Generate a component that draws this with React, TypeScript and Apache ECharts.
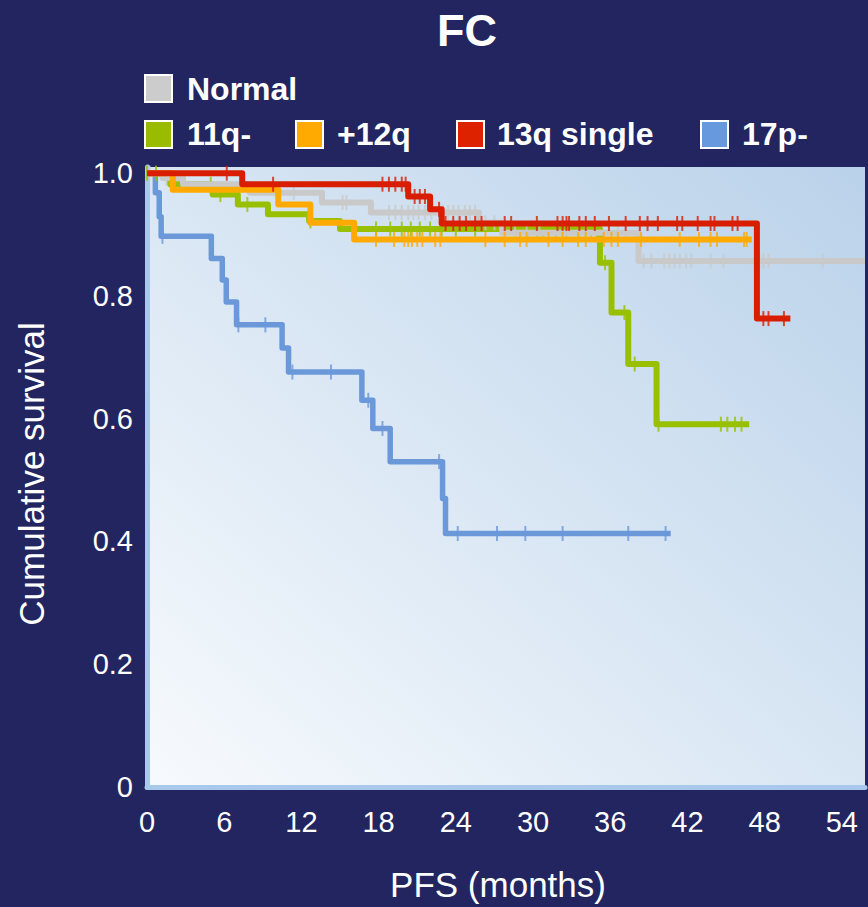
import { useEffect, useRef } from "react";
import * as echarts from "echarts";

// ---- data ----
const xTickValues = [0, 6, 12, 18, 24, 30, 36, 42, 48, 54];
const yTickValues = [0, 0.2, 0.4, 0.6, 0.8, 1.0];

const groupNames = ["Normal", "11q-", "+12q", "13q single", "17p-"];

// Normal (grey)
const normalTimes = [0, 1.2, 2.8, 8.0, 13.6, 17.4, 25.8, 27.6, 38.2];
const normalSurv = [1, 0.992, 0.982, 0.968, 0.952, 0.936, 0.919, 0.903, 0.857];
const normalEnd = 55.8;
const normalCensor = [0.2, 1.5, 11.4, 15.2, 15.5, 18.8, 19.3, 19.8, 20.3, 20.7, 21.1, 21.6, 22.1, 23.0, 23.4, 23.8, 24.2, 24.7, 25.1, 25.5, 26.3, 27.0, 28.6, 29.5, 30.5, 34.1, 36.6, 37.2, 38.6, 39.2, 40.2, 40.6, 41.0, 41.4, 41.9, 42.3, 43.8, 44.8, 47.6, 47.9, 48.3, 52.5];

// 11q- (green)
const q11Times = [0, 1.8, 5.1, 7.06, 9.4, 12.6, 15.0, 35.2, 36.1, 37.4, 39.6];
const q11Surv = [1, 0.982, 0.965, 0.949, 0.933, 0.922, 0.909, 0.854, 0.773, 0.689, 0.591];
const q11End = 46.8;
const q11Censor = [0, 0.7, 4.95, 5.7, 7.8, 12.7, 17.8, 18.9, 19.8, 20.5, 21.2, 22.0, 22.9, 24.0, 25.5, 29.0, 29.6, 30.3, 30.8, 31.8, 32.6, 33.6, 34.5, 34.9, 35.6, 37.1, 37.9, 39.75, 44.6, 45.1, 45.7, 46.2];

// +12q (orange)
const q12Times = [0, 2.0, 10.2, 12.7, 16.1];
const q12Surv = [1, 0.973, 0.949, 0.919, 0.892];
const q12End = 47.0;
const q12Censor = [17.8, 19.2, 20.0, 20.3, 20.6, 21.0, 21.4, 22.4, 22.8, 26.3, 27.8, 29.0, 29.5, 31.2, 32.3, 33.5, 34.1, 35.5, 36.1, 36.6, 38.4, 41.4, 42.9, 43.8, 44.3, 46.4, 46.6];

// 13q single (red)
const q13Times = [0, 7.4, 20.3, 22.0, 22.9, 47.4];
const q13Surv = [1, 0.982, 0.962, 0.941, 0.918, 0.763];
const q13End = 50.0;
const q13Censor = [6.2, 9.8, 18.3, 18.8, 19.3, 19.8, 20.1, 20.8, 21.2, 21.6, 22.7, 23.2, 23.8, 24.3, 24.8, 25.5, 26.0, 27.8, 28.3, 30.3, 31.9, 32.3, 32.6, 32.8, 33.6, 34.1, 34.8, 35.9, 37.2, 38.3, 38.9, 39.7, 41.2, 41.6, 42.8, 43.8, 44.1, 45.5, 45.9, 47.9, 48.3, 49.5];

// 17p- (blue)
const p17Times = [0, 0.65, 0.95, 1.1, 5.0, 5.85, 6.16, 6.96, 10.5, 11.0, 16.7, 17.55, 18.9, 22.97, 23.2];
const p17Surv = [1, 0.968, 0.929, 0.897, 0.861, 0.826, 0.79, 0.753, 0.715, 0.676, 0.63, 0.584, 0.53, 0.47, 0.413];
const p17End = 40.7;
const p17Censor = [1.2, 7.1, 9.2, 11.3, 14.3, 17.2, 18.3, 22.7, 24.15, 27.2, 29.4, 32.3, 37.4, 40.3];

const lineColors = ["#c9c9c9", "#99c000", "#ffaa00", "#d91e00", "#6b98d9"];
const swatchColors = ["#cccccc", "#99bb00", "#ffaa00", "#dd2200", "#6699dd"];

function survAt(times: number[], surv: number[], t: number) {
  let s = surv[0];
  for (let i = 0; i < times.length; i++) if (times[i] <= t) s = surv[i];
  return s;
}

function buildSeries(idx: number, times: number[], surv: number[], end: number, censor: number[], z: number, width: number) {
  const lineData = times.map((t, i) => [t, surv[i]]);
  lineData.push([end, surv[surv.length - 1]]);
  const censorData = censor.map((t) => [t, survAt(times, surv, t)]);
  return [
    {
      name: groupNames[idx],
      type: "line",
      step: "end",
      data: lineData,
      symbol: "none",
      showSymbol: false,
      silent: true,
      z,
      lineStyle: { width, color: lineColors[idx], join: "round" },
    },
    {
      name: groupNames[idx] + " censored",
      type: "scatter",
      data: censorData,
      symbol: "rect",
      symbolSize: [2, 15],
      silent: true,
      z,
      itemStyle: { color: lineColors[idx] },
    },
  ];
}

const FONT = "'Liberation Sans', Arial, sans-serif";

export default function App() {
  const ref = useRef<HTMLDivElement>(null);
  useEffect(() => {
    if (!ref.current) return;
    const chart = echarts.init(ref.current, undefined, { renderer: "svg" });
    const legendRow2 = [
      { i: 1, x: 144, tx: 187 },
      { i: 2, x: 295, tx: 337 },
      { i: 3, x: 456, tx: 497 },
      { i: 4, x: 700, tx: 742 },
    ];
    const graphics: any[] = [
      {
        type: "text",
        left: 467 - 30,
        top: 8,
        style: { text: "FC", fill: "#ffffff", font: `bold 45px ${FONT}` },
      },
      {
        type: "rect",
        shape: { x: 145, y: 75, width: 27, height: 27 },
        style: { fill: swatchColors[0], stroke: "#ffffff", lineWidth: 2 },
      },
      {
        type: "text",
        x: 187,
        y: 89,
        style: { text: groupNames[0], fill: "#ffffff", font: `bold 32px ${FONT}`, verticalAlign: "middle" },
      },
      {
        type: "text",
        x: 498,
        y: 884,
        style: { text: "PFS (months)", fill: "#ffffff", font: `35px ${FONT}`, align: "center", verticalAlign: "middle" },
      },
      {
        type: "text",
        x: 31,
        y: 474,
        rotation: Math.PI / 2,
        style: { text: "Cumulative survival", fill: "#ffffff", font: `35px ${FONT}`, align: "center", verticalAlign: "middle" },
      },
    ];
    legendRow2.forEach((l) => {
      graphics.push({
        type: "rect",
        shape: { x: l.x + 1, y: 121, width: 27, height: 27 },
        style: { fill: swatchColors[l.i], stroke: "#ffffff", lineWidth: 2 },
      });
      graphics.push({
        type: "text",
        x: l.tx,
        y: 134,
        style: { text: groupNames[l.i], fill: "#ffffff", font: `bold 32px ${FONT}`, verticalAlign: "middle" },
      });
    });

    const series = [
      ...buildSeries(4, p17Times, p17Surv, p17End, p17Censor, 2, 5.5),
      ...buildSeries(1, q11Times, q11Surv, q11End, q11Censor, 3, 6),
      ...buildSeries(0, normalTimes, normalSurv, normalEnd, normalCensor, 4, 6),
      ...buildSeries(2, q12Times, q12Surv, q12End, q12Censor, 5, 6),
      ...buildSeries(3, q13Times, q13Surv, q13End, q13Censor, 6, 6),
    ];

    chart.setOption({
      animation: false,
      backgroundColor: "#222560",
      textStyle: { fontFamily: FONT },
      grid: {
        left: 147,
        right: 0,
        top: 167,
        bottom: 120,
        show: true,
        borderWidth: 0,
        backgroundColor: new echarts.graphic.LinearGradient(0, 1, 1, 0, [
          { offset: 0, color: "#f7fafd" },
          { offset: 1, color: "#bad2ea" },
        ]),
      },
      xAxis: {
        type: "value",
        min: 0,
        max: 55.8,
        interval: 6,
        axisLine: { show: true, lineStyle: { color: "#a9c9ec", width: 5 } },
        axisTick: { show: false },
        splitLine: { show: false },
        axisLabel: {
          color: "#ffffff",
          fontSize: 29,
          margin: 20,
          fontFamily: FONT,
          formatter: (v: number) => (xTickValues.includes(v) ? String(v) : ""),
        },
      },
      yAxis: {
        type: "value",
        min: 0,
        max: 1.01,
        interval: 0.2,
        axisLine: { show: true, lineStyle: { color: "#a9c9ec", width: 5 } },
        axisTick: { show: false },
        splitLine: { show: false },
        axisLabel: {
          color: "#ffffff",
          fontSize: 29,
          margin: 14,
          fontFamily: FONT,
          formatter: (v: number) => {
            const hit = yTickValues.find((t) => Math.abs(t - v) < 1e-6);
            if (hit === undefined) return "";
            return hit === 0 ? "0" : hit.toFixed(1);
          },
        },
      },
      graphic: graphics,
      series,
    });
    return () => chart.dispose();
  }, []);
  return (
    <div
      ref={ref}
      style={{ position: "absolute", left: 0, top: 0, width: 868, height: 907 }}
    />
  );
}
